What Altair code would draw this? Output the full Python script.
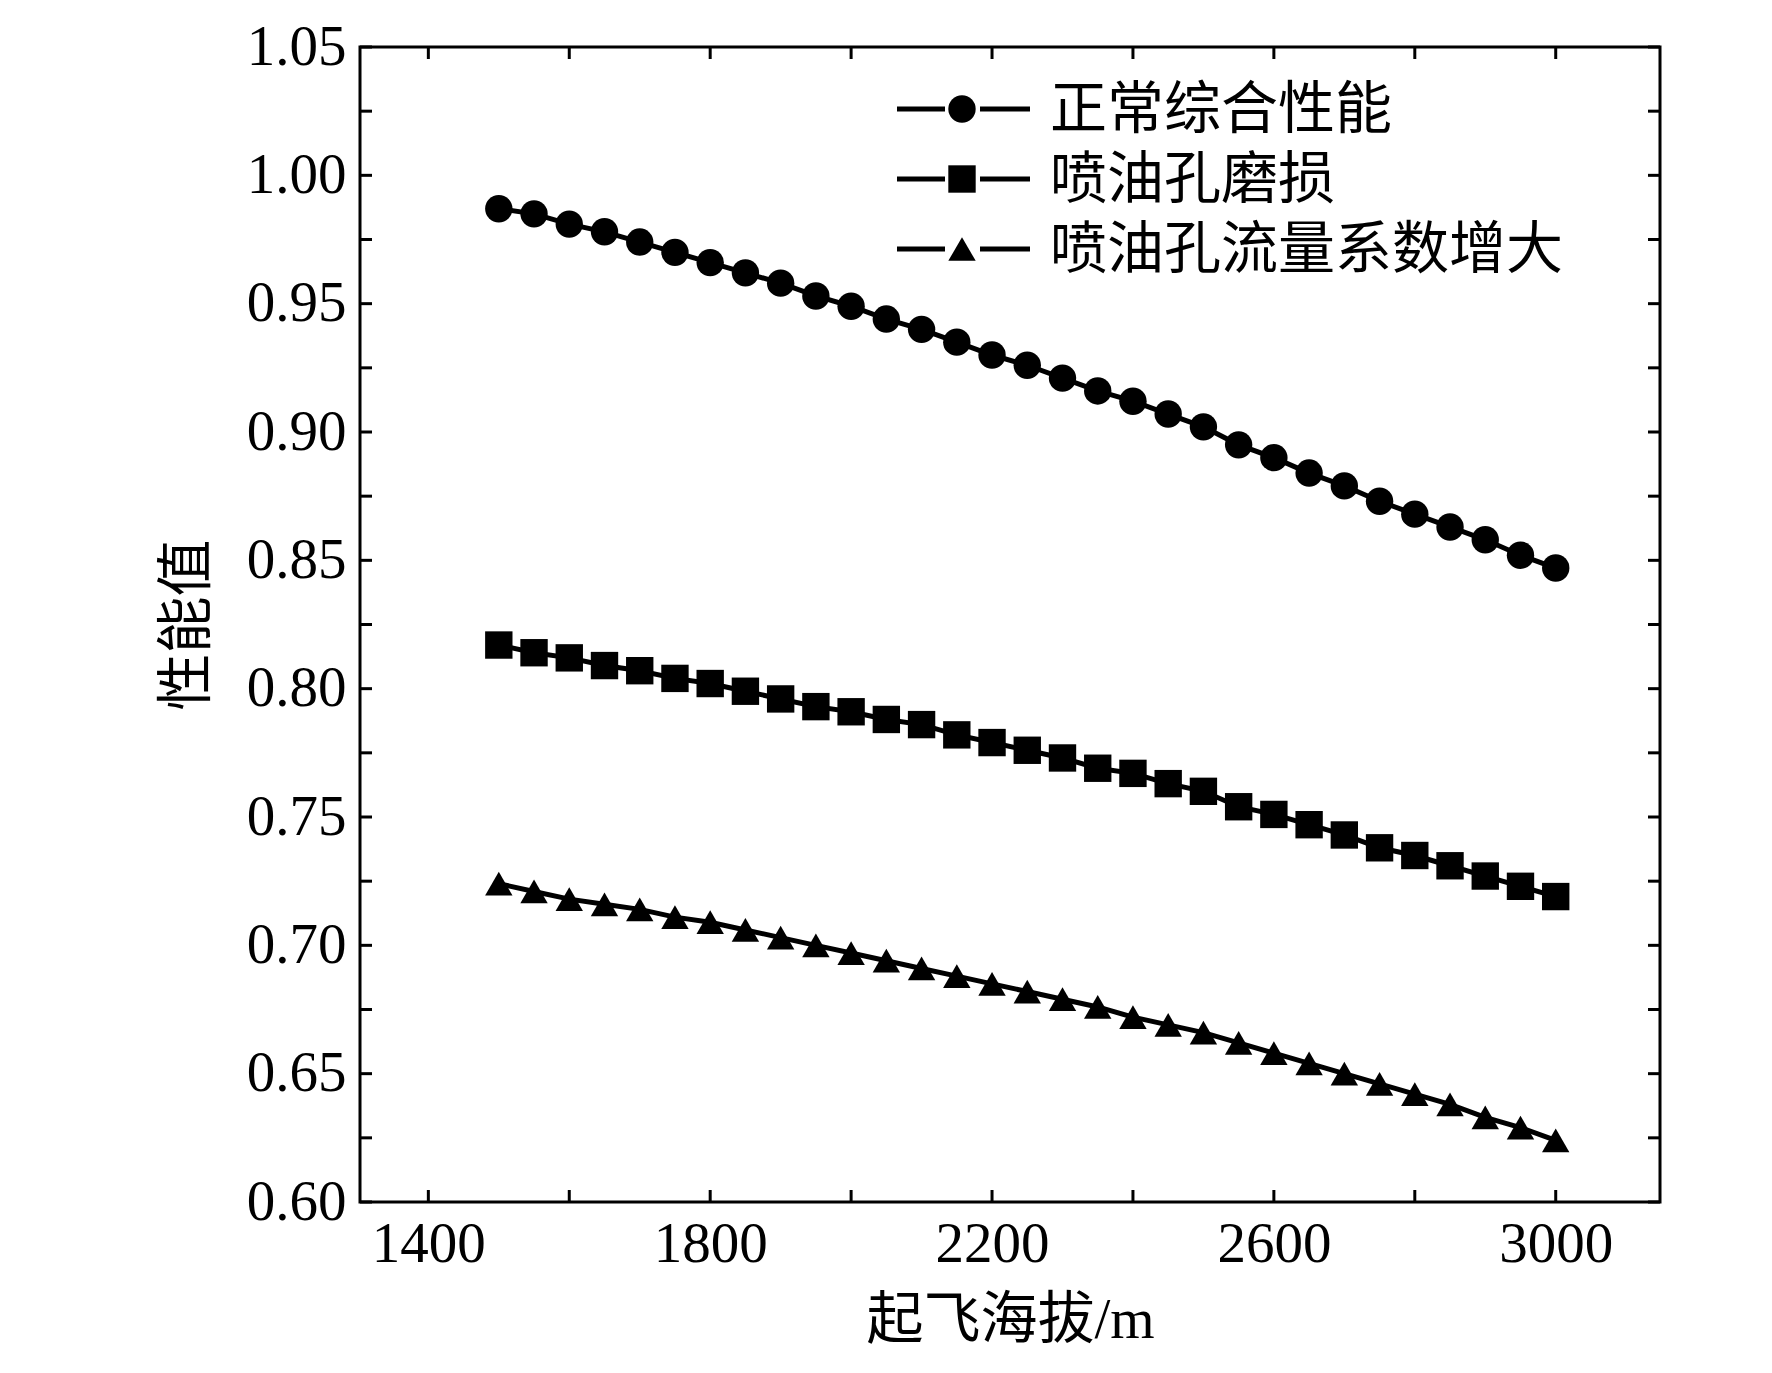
import altair as alt
import pandas as pd

altitude = list(range(1500, 3001, 50))
normal = [0.987, 0.985, 0.981, 0.978, 0.974, 0.970, 0.966, 0.962, 0.958, 0.953, 0.949,
          0.944, 0.940, 0.935, 0.930, 0.926, 0.921, 0.916, 0.912, 0.907, 0.902, 0.895,
          0.890, 0.884, 0.879, 0.873, 0.868, 0.863, 0.858, 0.852, 0.847]
wear = [0.817, 0.814, 0.812, 0.809, 0.807, 0.804, 0.802, 0.799, 0.796, 0.793, 0.791,
        0.788, 0.786, 0.782, 0.779, 0.776, 0.773, 0.769, 0.767, 0.763, 0.760, 0.754,
        0.751, 0.747, 0.743, 0.738, 0.735, 0.731, 0.727, 0.723, 0.719]
flow = [0.724, 0.721, 0.718, 0.716, 0.714, 0.711, 0.709, 0.706, 0.703, 0.700, 0.697,
        0.694, 0.691, 0.688, 0.685, 0.682, 0.679, 0.676, 0.672, 0.669, 0.666, 0.662,
        0.658, 0.654, 0.650, 0.646, 0.642, 0.638, 0.633, 0.629, 0.624]
series_names = ["正常综合性能", "喷油孔磨损", "喷油孔流量系数增大"]
shapes = ["circle", "square", "triangle-up"]
x_ticks = list(range(1400, 3101, 200))
x_labels = [1400, 1800, 2200, 2600, 3000]
y_ticks = [round(0.6 + 0.025 * i, 3) for i in range(19)]
y_labels = [round(0.6 + 0.05 * i, 2) for i in range(10)]

W, H = 1300, 1155
FONT = "Liberation Serif, Noto Sans CJK SC"
X_DOM = [1303, 3148]
Y_DOM = [0.6, 1.05]

rows = []
for name, vals in zip(series_names, [normal, wear, flow]):
    for a, v in zip(altitude, vals):
        rows.append({"altitude": a, "value": v, "series": name})
df = pd.DataFrame(rows)

xs = alt.Scale(domain=X_DOM, nice=False, zero=False)
ys = alt.Scale(domain=Y_DOM, nice=False, zero=False)
shape_scale = alt.Scale(domain=series_names, range=shapes)

x_enc = alt.X("altitude:Q", scale=xs, title="起飞海拔/m",
              axis=alt.Axis(values=x_labels, ticks=False, grid=False, domain=False,
                            labelFontSize=57, titleFontSize=57, labelPadding=14,
                            titlePadding=20, format="d", labelFlush=False))
y_enc = alt.Y("value:Q", scale=ys, title="性能值",
              axis=alt.Axis(values=y_labels, ticks=False, grid=False, domain=False,
                            labelFontSize=57, titleFontSize=57, labelPadding=14,
                            titlePadding=30, format=".2f", labelFlush=False))

base = alt.Chart(df)
line = base.mark_line(color="black", strokeWidth=5).encode(
    x=x_enc, y=y_enc, detail="series:N")
pts = base.mark_point(filled=True, color="black", opacity=1, size=750).encode(
    x="altitude:Q", y="value:Q",
    shape=alt.Shape("series:N", scale=shape_scale, legend=None))

xt = pd.DataFrame({"t": x_ticks})
yt = pd.DataFrame({"t": y_ticks})
tl = 12
tick_layers = [
    alt.Chart(xt).mark_rule(color="black", strokeWidth=3).encode(
        x=alt.X("t:Q", scale=xs), y=alt.value(H), y2=alt.value(H - tl)),
    alt.Chart(xt).mark_rule(color="black", strokeWidth=3).encode(
        x=alt.X("t:Q", scale=xs), y=alt.value(0), y2=alt.value(tl)),
    alt.Chart(yt).mark_rule(color="black", strokeWidth=3).encode(
        y=alt.Y("t:Q", scale=ys), x=alt.value(0), x2=alt.value(tl)),
    alt.Chart(yt).mark_rule(color="black", strokeWidth=3).encode(
        y=alt.Y("t:Q", scale=ys), x=alt.value(W), x2=alt.value(W - tl)),
]

# hand-drawn legend: dash - marker - dash, then label
legend_layers = []
for i, name in enumerate(series_names):
    ly = 62 + 70 * i
    one = alt.Chart(pd.DataFrame({"series": [name]}))
    legend_layers += [
        one.mark_rule(color="black", strokeWidth=5).encode(
            x=alt.value(537), x2=alt.value(585), y=alt.value(ly)),
        one.mark_rule(color="black", strokeWidth=5).encode(
            x=alt.value(620), x2=alt.value(670), y=alt.value(ly)),
        one.mark_point(filled=True, color="black", opacity=1, size=750).encode(
            x=alt.value(602), y=alt.value(ly),
            shape=alt.Shape("series:N", scale=shape_scale, legend=None)),
        one.mark_text(align="left", baseline="middle", fontSize=57, font=FONT,
                      color="black").encode(
            x=alt.value(690), y=alt.value(ly + 2), text="series:N"),
    ]

chart = alt.layer(line, pts, *tick_layers, *legend_layers).properties(
    width=W, height=H, padding={"left": 150, "top": 10, "right": 10, "bottom": 10}
).configure_view(
    stroke="black", strokeWidth=3
).configure_axis(
    labelFont=FONT, titleFont=FONT, labelColor="black", titleColor="black",
    titleFontWeight="normal"
)

chart.save("out.html", embed_options={"renderer": "svg", "actions": False})
